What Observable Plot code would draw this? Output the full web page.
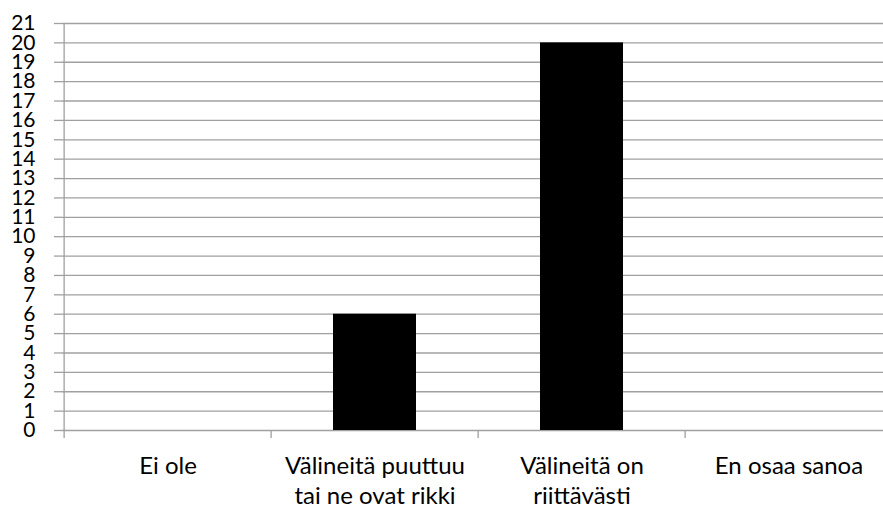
<!DOCTYPE html>
<html>
<head>
<meta charset="utf-8">
<script src="https://cdn.jsdelivr.net/npm/d3@7"></script>
<script src="https://cdn.jsdelivr.net/npm/@observablehq/plot@0.6"></script>
<style>
  html, body { margin: 0; padding: 0; background: #fff; overflow: hidden; }
  svg { display: block; }
</style>
</head>
<body>
<div id="chart"></div>
<script>
const categories = ["Ei ole", "Välineitä puuttuu\ntai ne ovat rikki", "Välineitä on\nriittävästi", "En osaa sanoa"];
const values = [0, 6, 20, 0];
const yTicks = d3.range(0, 22);

const data = categories.map((c, i) => ({category: c, value: values[i]}));

const width = 883, height = 508;
const marginLeft = 62, marginRight = -10, marginTop = 23, marginBottom = 78;
const step = (width - marginLeft - marginRight) / categories.length;
const grid = "#a0a0a0";
const font = "Lato, 'Open Sans', sans-serif";

const chart = Plot.plot({
  width, height, marginLeft, marginRight, marginTop, marginBottom,
  style: {fontFamily: font, background: "#fff", color: "#000"},
  x: {domain: categories, paddingInner: 0.6, paddingOuter: 0.3, label: null},
  y: {domain: [0, 21], label: null},
  marks: [
    Plot.ruleY(yTicks, {y: d => d, stroke: grid, strokeWidth: 1.3}),
    Plot.axisY({ticks: yTicks, tickSize: 8, tickPadding: 19, stroke: grid, strokeWidth: 1.3, fontSize: 21, fill: "#000", label: null, strokeOpacity: 1}),
    Plot.ruleX([categories[0]], {x: d => d, dx: -step / 2, y1: 21, y2: 0, stroke: grid, strokeWidth: 1.3}),
    Plot.axisX({tickSize: 8, dx: -step / 2, text: null, stroke: grid, strokeWidth: 1.3, strokeOpacity: 1, label: null}),
    Plot.axisX({tickSize: 0, tickPadding: 22, fontSize: 24, lineHeight: 1.25, fill: "#000", label: null}),
    Plot.barY(data, {x: "category", y: "value", fill: "#000"})
  ]
});
document.getElementById("chart").appendChild(chart);
</script>
</body>
</html>
